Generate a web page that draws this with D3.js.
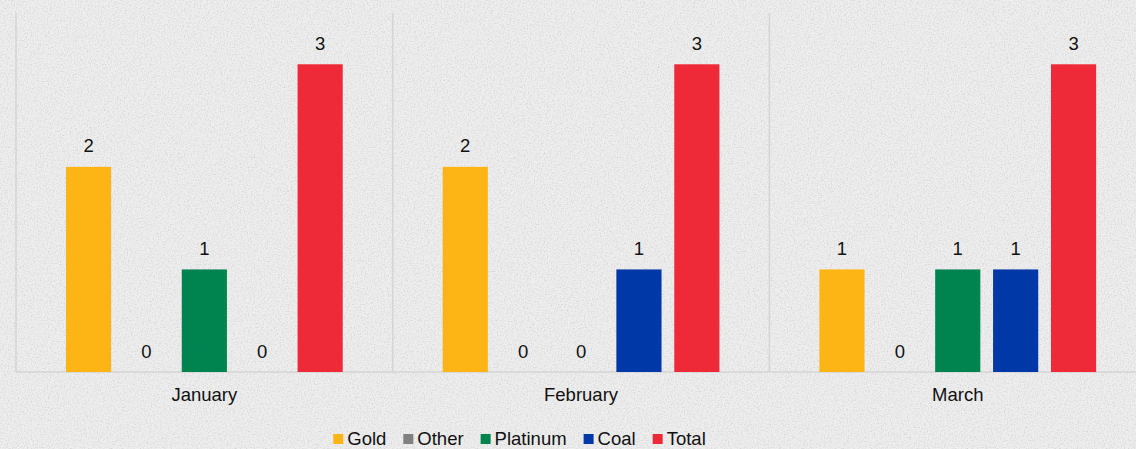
<!DOCTYPE html>
<html>
<head>
<meta charset="utf-8">
<script src="https://cdn.jsdelivr.net/npm/d3@7"></script>
<style>
  html, body { margin: 0; padding: 0; background: #ebebeb; overflow: hidden; }
  svg { display: block; font-family: "Liberation Sans", Arial, sans-serif; }
</style>
</head>
<body>
<svg id="chart" width="1136" height="449"></svg>
<script>
const months = ["January", "February", "March"];
const seriesNames = ["Gold", "Other", "Platinum", "Coal", "Total"];
const seriesColors = ["#FDB515", "#808080", "#00844F", "#0038A8", "#EE2A38"];
const gold = [2, 2, 1];
const other = [0, 0, 0];
const platinum = [1, 0, 1];
const coal = [0, 1, 1];
const total = [3, 3, 3];
const seriesValues = [gold, other, platinum, coal, total];

const W = 1136, H = 449;
const svg = d3.select("#chart");

// background paper
const defs = svg.append("defs");
const f = defs.append("filter").attr("id", "paper").attr("x", 0).attr("y", 0).attr("width", "100%").attr("height", "100%");
f.append("feTurbulence").attr("type", "fractalNoise").attr("baseFrequency", 0.7).attr("numOctaves", 4).attr("seed", 4).attr("result", "n");
f.append("feColorMatrix").attr("in", "n").attr("type", "matrix")
  .attr("values", "0 0 0 0 0.4  0 0 0 0 0.4  0 0 0 0 0.4  0 0 0 -1.6 0.9");
svg.append("rect").attr("width", W).attr("height", H).attr("fill", "#eeeeee");
svg.append("rect").attr("width", W).attr("height", H).attr("fill", "#fff").attr("filter", "url(#paper)").attr("opacity", 0.5);

const plotLeft = 16, catW = 376.7, plotTop = 13, base = 372;
const x0 = d3.scaleBand().domain(months).range([plotLeft, plotLeft + catW * months.length]).padding(0);
const x1 = d3.scaleBand().domain(seriesNames).range([43.6, catW - 43.6]).paddingInner(0.22).paddingOuter(0.11);
const y = d3.scaleLinear().domain([0, 3.5]).range([base, plotTop]);

// gridlines
const g = svg.append("g");
g.selectAll("line.v").data(months).enter().append("line")
  .attr("x1", d => x0(d)).attr("x2", d => x0(d))
  .attr("y1", y(3.5)).attr("y2", base)
  .attr("stroke", "#d5d5d5").attr("stroke-width", 1.5);
g.append("line").attr("x1", plotLeft).attr("x2", W).attr("y1", base).attr("y2", base)
  .attr("stroke", "#d5d5d5").attr("stroke-width", 1.5);

const rows = [];
months.forEach((m, i) => seriesNames.forEach((s, j) => rows.push({ m, s, v: seriesValues[j][i], c: seriesColors[j] })));

const bars = svg.append("g");
bars.selectAll("rect").data(rows.filter(d => d.v > 0)).enter().append("rect")
  .attr("x", d => x0(d.m) + x1(d.s))
  .attr("width", x1.bandwidth())
  .attr("y", d => y(d.v))
  .attr("height", d => base - y(d.v))
  .attr("fill", d => d.c);

bars.selectAll("text").data(rows).enter().append("text")
  .attr("x", d => x0(d.m) + x1(d.s) + x1.bandwidth() / 2)
  .attr("y", d => y(d.v) - 14.5)
  .attr("text-anchor", "middle")
  .attr("font-size", 18.5).attr("fill", "#111")
  .text(d => d.v);

// month labels
svg.append("g").selectAll("text").data(months).enter().append("text")
  .attr("x", d => x0(d) + catW / 2)
  .attr("y", 401)
  .attr("text-anchor", "middle").attr("font-size", 18.5).attr("fill", "#111")
  .text(d => d);

// legend
const leg = svg.append("g");
let cx = 0;
seriesNames.forEach((s, i) => {
  const it = leg.append("g");
  it.append("rect").attr("x", 0).attr("y", 434).attr("width", 10).attr("height", 10).attr("fill", seriesColors[i]);
  const t = it.append("text").attr("x", 14).attr("y", 445).attr("font-size", 18.5).attr("fill", "#111").text(s);
  const w = 14 + t.node().getComputedTextLength();
  it.attr("transform", `translate(${cx},0)`);
  cx += w + 17;
});
const totalW = cx - 17;
leg.attr("transform", `translate(${519.5 - totalW / 2},0)`);
</script>
</body>
</html>
